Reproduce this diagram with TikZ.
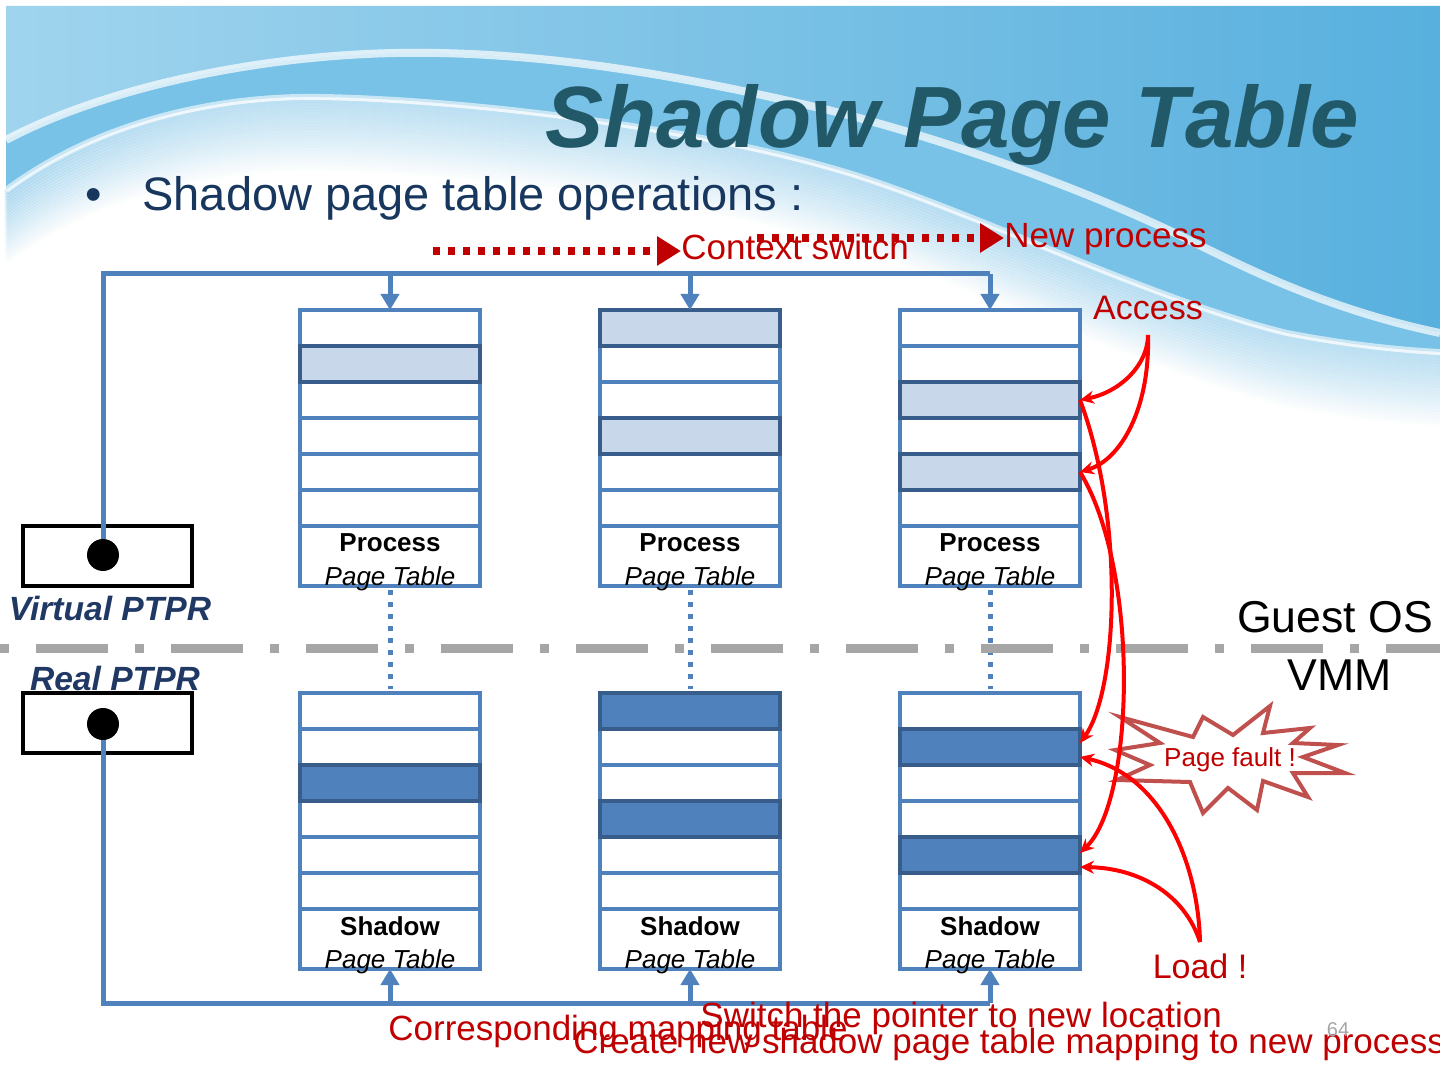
\documentclass[tikz,border=0pt]{standalone}
\usepackage{fontspec}
\setmainfont{Liberation Sans}
\usetikzlibrary{arrows.meta}

\definecolor{tblue}{RGB}{79,129,189}
\definecolor{tdark}{RGB}{56,93,138}
\definecolor{tlight}{RGB}{200,215,234}
\definecolor{sred}{RGB}{192,0,0}
\definecolor{titleteal}{RGB}{33,89,104}
\definecolor{navy}{RGB}{23,55,94}
\definecolor{ptprblue}{RGB}{31,56,100}
\definecolor{starred}{RGB}{192,80,77}
\definecolor{skyA}{RGB}{88,176,222}
\definecolor{skyL}{RGB}{160,212,238}
\definecolor{skyB}{RGB}{120,193,231}
\definecolor{dashgray}{RGB}{166,166,166}

\newcommand{\crestone}{(1440,333) .. controls (1330,310) and (1250,270) .. (1195,243) .. controls (1100,195) and (950,140) .. (828,110) .. controls (700,80) and (550,50) .. (395,53) .. controls (250,56) and (100,90) .. (6,140)}
\newcommand{\cresttwo}{(6,190) .. controls (100,120) and (220,95) .. (322,97) .. controls (480,100) and (700,130) .. (828,167) .. controls (950,200) and (1150,300) .. (1287,333) .. controls (1350,345) and (1400,350) .. (1440,352)}

\begin{document}
\begin{tikzpicture}[x=0.5pt,y=-0.5pt,
  prow/.style={draw=tblue, line width=2pt, fill=white, minimum width=90pt, minimum height=18pt, inner sep=0pt, outer sep=0pt},
  labbox/.style={prow, minimum height=30pt},
  phit/.style={draw=tdark, line width=2pt, fill=tlight},
  shit/.style={draw=tdark, line width=2pt, fill=tblue},
  tname/.style={anchor=base, inner sep=0pt, font=\fontsize{13}{15}\selectfont\bfseries},
  tsub/.style={anchor=base, inner sep=0pt, font=\fontsize{13}{15}\selectfont\itshape},
  bus/.style={draw=tblue, line width=2.5pt},
  busarrow/.style={bus, -{Triangle[length=8pt,width=9pt]}},
  maplink/.style={draw=tblue, line width=2.5pt, dash pattern=on 2.5pt off 3.5pt, shorten <=2pt, shorten >=2pt},
  ptpr/.style={draw=black, line width=2pt, fill=white, minimum width=84.5pt, minimum height=30pt, inner sep=0pt},
  ptrdot/.style={circle, fill=black, minimum size=16pt, inner sep=0pt},
  ptprlabel/.style={anchor=base, inner sep=0pt, text=ptprblue, font=\fontsize{16.8}{20}\selectfont\bfseries\itshape},
  sepline/.style={draw=dashgray, line width=4.5pt, dash pattern=on 4.5pt off 13.5pt on 36pt off 13.5pt},
  redflow/.style={draw=sred, line width=4pt, dash pattern=on 3.5pt off 4pt, -{Triangle[length=12pt,width=14pt]}},
  hitarrow/.style={draw=red, line width=2pt, -{Stealth[length=7pt,width=6.5pt]}},
  redlabel/.style={anchor=base west, inner sep=0pt, text=sred, font=\fontsize{17.5}{21}\selectfont},
  sidelabel/.style={anchor=base, inner sep=0pt, font=\fontsize{22.3}{26}\selectfont}
]
\useasboundingbox (0,0) rectangle (1440,1080);

% slide backdrop
\fill[white] (0,0) rectangle (1440,1080);
\shade[left color=skyL, right color=skyA] (6,6) -- (1440,6) -- \crestone -- cycle;
\fill[skyB] \crestone -- \cresttwo -- cycle;
\foreach \k in {1,...,24}
  \draw[skyB, line width=3pt, opacity={0.3-0.012*\k}, yshift={-\k*1.5pt}] \cresttwo;
\draw[white, line width=4pt, opacity=0.7] \crestone;
\draw[white, line width=3pt, opacity=0.6] \cresttwo;

% Title
\node (title) at (545,148) [anchor=base west, inner sep=0pt, text=titleteal, font=\fontsize{43.5}{50}\selectfont\bfseries\itshape] {Shadow Page Table};
% Bullet
\node (blt) at (85,211) [anchor=base west, inner sep=0pt, text=navy, font=\fontsize{23.5}{28}\selectfont] {•};
\node (ops) at (142,211) [anchor=base west, inner sep=0pt, text=navy, font=\fontsize{23.5}{28}\selectfont] {Shadow page table operations :};

% Process page tables
\foreach \tb/\x in {1/390,2/690,3/990}{
  \foreach \rw in {1,...,6}
    \node[prow] (p\tb r\rw) at (\x,{292+36*\rw}) {};
  \node[labbox] (p\tb lab) at (\x,556) {};
}
\foreach \tb/\rw in {1/2,2/1,2/4,3/3,3/5}
  \draw[phit] (p\tb r\rw.north west) rectangle (p\tb r\rw.south east);
\foreach \tb/\x in {1/390,2/690,3/990}{
  \node[tname] (p\tb name) at (\x,551) {Process};
  \node[tsub] (p\tb sub) at (\x,585) {Page Table};
}

% Shadow page tables
\foreach \tb/\x in {1/390,2/690,3/990}{
  \foreach \rw in {1,...,6}
    \node[prow] (s\tb r\rw) at (\x,{675+36*\rw}) {};
  \node[labbox] (s\tb lab) at (\x,939) {};
}
\foreach \tb/\rw in {1/3,2/1,2/4,3/2,3/5}
  \draw[shit] (s\tb r\rw.north west) rectangle (s\tb r\rw.south east);
\foreach \tb/\x in {1/390,2/690,3/990}{
  \node[tname] (s\tb name) at (\x,935) {Shadow};
  \node[tsub] (s\tb sub) at (\x,968) {Page Table};
}

% Mapping links
\foreach \tb in {1,2,3}
  \draw[maplink] (p\tb lab.south) -- (s\tb r1.north);

% Guest OS / VMM border
\draw[sepline] (0,648) -- (1440,648);
\node[sidelabel] (guest) at (1335,632) {Guest OS};
\node[sidelabel] (vmm) at (1340,690) {VMM};

% PTPR registers
\node[ptpr] (vptpr) at (107.5,555.5) {};
\node[ptrdot] (vdot) at (103,555) {};
\node[ptprlabel] (vname) at (110,620) {Virtual PTPR};
\node[ptpr] (rptpr) at (107.5,723) {};
\node[ptrdot] (rdot) at (103,724) {};
\node[ptprlabel] (rname) at (115,690) {Real PTPR};

% Pointer buses
\coordinate (vcorner) at (103,274);
\draw[bus] (vdot.north) -- (vcorner) -- (p3r1.north |- vcorner);
\foreach \tb in {1,2,3}
  \draw[busarrow] (p\tb r1.north |- vcorner) -- (p\tb r1.north);
\coordinate (rcorner) at (103,1003);
\draw[bus] (rdot.south) -- (rcorner) -- (s3lab.south |- rcorner);
\foreach \tb in {1,2,3}
  \draw[busarrow] (s\tb lab.south |- rcorner) -- (s\tb lab.south);

% Context switch / new process
\node[redlabel] (ctx) at (681,260) {Context switch};
\coordinate (ctxfrom) at (433,251);
\draw[redflow] (ctxfrom) -- (ctx.west |- ctxfrom);
\node[redlabel] (newp) at (1004,248) {New process};
\coordinate (newfrom) at (757,238);
\draw[redflow] (newfrom) -- (newp.west |- newfrom);

% Page fault burst
\draw[starred, line width=2pt, fill=white, line join=miter]
  (1120,717) -- (1193,737) -- (1203,717) -- (1233,735) -- (1270,706) -- (1263,733)
  -- (1310,728) -- (1293,743) -- (1338,745) -- (1303,757) -- (1345,773) -- (1293,773)
  -- (1308,797) -- (1263,781) -- (1257,810) -- (1228,788) -- (1203,813) -- (1190,782)
  -- (1117,780) -- (1150,765) -- (1115,750) -- (1160,743) -- cycle;
\node (pf) at (1230,766) [anchor=base, inner sep=0pt, text=sred, font=\fontsize{13}{15}\selectfont] {Page fault !};

% Access / Load
\node (acc) at (1148,320) [anchor=base, inner sep=0pt, text=sred, font=\fontsize{17}{20}\selectfont] {Access};
\coordinate (accfoot) at (1148,335);
\node (load) at (1200,978) [anchor=base, inner sep=0pt, text=sred, font=\fontsize{17}{20}\selectfont] {Load !};
\coordinate (loadtop) at (1200,942);

\draw[hitarrow] (accfoot) .. controls (1148,365) and (1120,392) .. (p3r3.east);
\draw[hitarrow] (accfoot) .. controls (1150,410) and (1120,460) .. (p3r5.east);
\draw[hitarrow] (p3r3.east) .. controls (1125,520) and (1118,690) .. ([yshift=2pt]s3r2.east);
\draw[hitarrow] (p3r5.east) .. controls (1140,570) and (1135,800) .. ([yshift=1pt]s3r5.east);
\draw[hitarrow] (loadtop) .. controls (1198,860) and (1160,775) .. ([yshift=-5pt]s3r2.east);
\draw[hitarrow] (loadtop) .. controls (1185,895) and (1140,868) .. ([yshift=-6pt]s3r5.east);

% Bottom notes
\node[redlabel] (corr) at (388,1040) {Corresponding mapping table};
\node[redlabel] (swp) at (700,1027) {Switch the pointer to new location};
\node[redlabel] (crt) at (573,1053) {Create new shadow page table mapping to new process};
\node (pgno) at (1338,1036) [anchor=base, inner sep=0pt, text=dashgray, font=\fontsize{10}{12}\selectfont] {64};

\end{tikzpicture}
\end{document}
